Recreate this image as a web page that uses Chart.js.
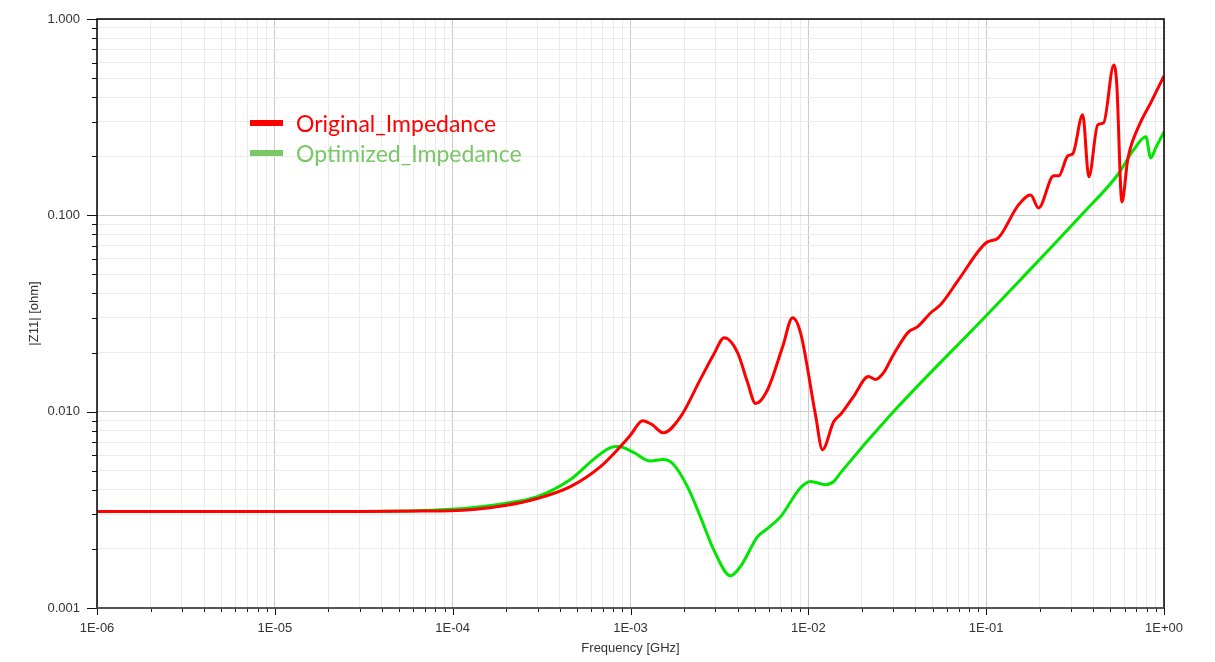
<!DOCTYPE html>
<html>
<head>
<meta charset="utf-8">
<script src="https://cdn.jsdelivr.net/npm/chart.js@4/dist/chart.umd.min.js"></script>
<style>
  body { margin: 0; background: #fff; }
  #wrap { position: relative; width: 1215px; height: 662px; }
  #legend { position: absolute; left: 250px; top: 108px; font-family: Lato, "Open Sans", sans-serif; font-size: 23px; }
  .row { display: flex; align-items: center; height: 30px; }
  .mark { width: 33px; height: 6px; margin-right: 13px; }
</style>
</head>
<body>
<div id="wrap">
  <canvas id="chart" width="1215" height="662"></canvas>
  <div id="legend">
    <div class="row" style="color:#ff0000"><span class="mark" style="background:#ff0000"></span>Original_Impedance</div>
    <div class="row" style="color:#78c865"><span class="mark" style="background:#78c865"></span>Optimized_Impedance</div>
  </div>
</div>
<script>
// frequency in GHz, |Z11| in ohm
const originalFreq = [1e-6, 3e-5, 6.6e-5, 9.7e-5, 1.93e-4, 2.99e-4, 4.59e-4, 6.78e-4, 8.77e-4, 1.0e-3,
  1.17e-3, 1.32e-3, 1.53e-3, 1.91e-3, 2.47e-3, 2.93e-3, 3.37e-3, 4.0e-3, 4.55e-3, 5.05e-3,
  5.89e-3, 7.17e-3, 8.15e-3, 9.04e-3, 1.1e-2, 1.2e-2, 1.39e-2, 1.52e-2, 1.79e-2, 2.18e-2,
  2.39e-2, 2.65e-2, 3.01e-2, 3.66e-2, 4.12e-2, 4.88e-2, 5.55e-2, 7.0e-2, 0.1, 0.117,
  0.152, 0.178, 0.197, 0.24, 0.256, 0.288, 0.307, 0.349, 0.378, 0.424,
  0.458, 0.522, 0.542, 0.58, 0.625, 0.65, 0.74, 0.842, 1.0];
const originalZ = [0.0031, 0.0031, 0.00312, 0.00313, 0.00332, 0.00361, 0.00415, 0.00525, 0.00664, 0.0076,
  0.009, 0.0086, 0.0078, 0.0094, 0.0146, 0.0195, 0.0238, 0.02, 0.0141, 0.011,
  0.0129, 0.0214, 0.0301, 0.0252, 0.0095, 0.0064, 0.0089, 0.0097, 0.0119, 0.0151,
  0.0146, 0.0158, 0.0195, 0.0255, 0.0271, 0.0319, 0.0351, 0.047, 0.0725, 0.0768,
  0.113, 0.127, 0.109, 0.159, 0.159, 0.201, 0.206, 0.325, 0.157, 0.289,
  0.296, 0.583, 0.472, 0.117, 0.192, 0.223, 0.299, 0.374, 0.513];

const optimizedFreq = [1e-6, 3e-5, 9.7e-5, 1.93e-4, 2.99e-4, 4.59e-4, 6.18e-4, 7.71e-4, 8.55e-4, 1.04e-3,
  1.29e-3, 1.53e-3, 1.74e-3, 2.09e-3, 2.47e-3, 2.93e-3, 3.65e-3, 4.16e-3, 5.18e-3, 5.89e-3,
  6.98e-3, 9.04e-3, 1.03e-2, 1.25e-2, 1.39e-2, 1.52e-2, 2.98e-2, 0.1, 0.156, 0.34,
  0.549, 0.676, 0.791, 0.842, 0.899, 1.0];
const optimizedZ = [0.0031, 0.0031, 0.00318, 0.0034, 0.00369, 0.00451, 0.0057, 0.00656, 0.00664, 0.0062,
  0.0056, 0.0057, 0.0054, 0.00415, 0.00292, 0.00199, 0.00146, 0.00163, 0.00231, 0.00254,
  0.00292, 0.0041, 0.00441, 0.00425, 0.00441, 0.00489, 0.00989, 0.0308, 0.047, 0.0995,
  0.161, 0.216, 0.251, 0.196, 0.221, 0.266];

const freqRange = [1e-6, 1];
const zRange = [0.001, 1];

function isDecade(v) {
  const l = Math.log10(v);
  return Math.abs(l - Math.round(l)) < 1e-6;
}

// 1..9 in every decade, nothing else
function decadeTicks(scale) {
  const ticks = [];
  const lo = Math.round(Math.log10(scale.min));
  const hi = Math.round(Math.log10(scale.max));
  for (let e = lo; e <= hi; e++) {
    for (let m = 1; m <= 9; m++) {
      if (e === hi && m > 1) break;
      const v = parseFloat((m * Math.pow(10, e)).toPrecision(6));
      ticks.push({ value: v, major: m === 1 });
    }
  }
  scale.ticks = ticks;
}

const frame = {
  id: 'frame',
  afterDraw(chart) {
    const { ctx, chartArea: a, scales } = chart;
    ctx.save();
    ctx.strokeStyle = '#111';
    ctx.lineWidth = 1;
    scales.x.ticks.forEach(t => {
      const px = Math.round(scales.x.getPixelForValue(t.value)) + 0.5;
      const len = isDecade(t.value) ? 7 : 4;
      ctx.beginPath();
      ctx.moveTo(px, a.bottom);
      ctx.lineTo(px, a.bottom + len);
      ctx.stroke();
    });
    scales.y.ticks.forEach(t => {
      const py = Math.round(scales.y.getPixelForValue(t.value)) + 0.5;
      const len = isDecade(t.value) ? 10 : 5;
      ctx.beginPath();
      ctx.moveTo(a.left, py);
      ctx.lineTo(a.left - len, py);
      ctx.stroke();
    });
    ctx.lineWidth = 1.5;
    ctx.strokeStyle = '#000';
    ctx.beginPath();
    ctx.moveTo(a.left, a.bottom);
    ctx.lineTo(a.left, a.top);
    ctx.lineTo(a.right, a.top);
    ctx.lineTo(a.right, a.bottom);
    ctx.stroke();
    ctx.lineWidth = 2;
    ctx.strokeStyle = '#555';
    ctx.beginPath();
    ctx.moveTo(a.left, a.bottom);
    ctx.lineTo(a.right, a.bottom);
    ctx.stroke();
    ctx.restore();
  }
};

const tickFont = { family: '"Liberation Sans", Arial, sans-serif', size: 13 };
const gridColor = (c) => (c.tick && isDecade(c.tick.value) ? '#cbcbcb' : '#ebebeb');

new Chart(document.getElementById('chart'), {
  type: 'line',
  data: {
    datasets: [
      {
        label: 'Original_Impedance',
        data: originalFreq.map((f, i) => ({ x: f, y: originalZ[i] })),
        borderColor: '#ff0000',
        borderWidth: 3,
        pointRadius: 0,
        cubicInterpolationMode: 'monotone',
      },
      {
        label: 'Optimized_Impedance',
        data: optimizedFreq.map((f, i) => ({ x: f, y: optimizedZ[i] })),
        borderColor: '#00e600',
        borderWidth: 3,
        pointRadius: 0,
        cubicInterpolationMode: 'monotone',
      },
    ],
  },
  options: {
    responsive: false,
    animation: false,
    layout: { padding: { left: 0, right: 51, top: 19, bottom: 0 } },
    plugins: { legend: { display: false }, tooltip: { enabled: false } },
    scales: {
      x: {
        type: 'logarithmic',
        min: freqRange[0],
        max: freqRange[1],
        afterBuildTicks: decadeTicks,
        afterFit: (s) => { s.height = 54; },
        grid: { drawTicks: false, color: gridColor },
        border: { display: false },
        ticks: {
          autoSkip: false,
          maxRotation: 0,
          padding: 13,
          color: '#333',
          font: tickFont,
          callback: (v) => {
            if (!isDecade(v)) return '';
            const e = Math.round(Math.log10(v));
            return '1E' + (e < 0 ? '-' : '+') + String(Math.abs(e)).padStart(2, '0');
          },
        },
        title: { display: true, text: 'Frequency [GHz]', color: '#333', font: tickFont, padding: { top: 0, bottom: 6 } },
      },
      y: {
        type: 'logarithmic',
        min: zRange[0],
        max: zRange[1],
        afterBuildTicks: decadeTicks,
        afterFit: (s) => { s.width = 97; s.paddingTop = 0; s.paddingBottom = 0; },
        grid: { drawTicks: false, color: gridColor },
        border: { display: false },
        ticks: {
          autoSkip: false,
          padding: 17,
          color: '#333',
          font: tickFont,
          callback: (v) => (isDecade(v) ? v.toFixed(3) : ''),
        },
        title: { display: true, text: '|Z11| [ohm]', color: '#333', font: tickFont, padding: { top: 27, bottom: 0 } },
      },
    },
  },
  plugins: [frame],
});
</script>
</body>
</html>
